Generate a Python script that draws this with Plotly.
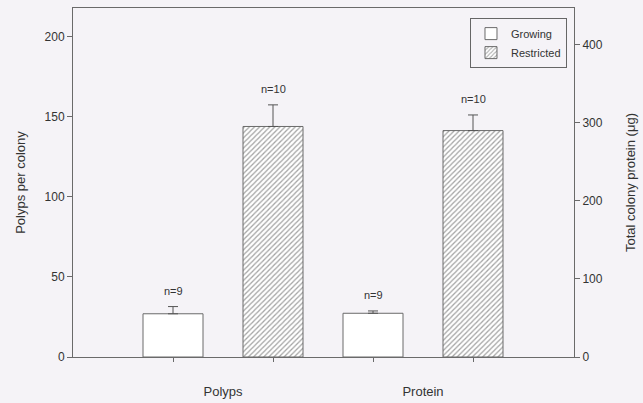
import plotly.graph_objects as go

# Measurements per colony
groups = ["Polyps", "Protein"]
conditions = ["Growing", "Restricted"]
polyps_mean = [27, 144]        # polyps per colony
polyps_err = [4.5, 13.5]
protein_mean = [56, 290]       # total colony protein (µg)
protein_err = [3, 20]
sample_n = [["n=9", "n=10"], ["n=9", "n=10"]]

BG = "#f5f3f7"
LINE = "#6a6a6a"
TXT = "#333333"
FONT = "Liberation Sans, Arial, sans-serif"

means = [polyps_mean, protein_mean]
errs = [polyps_err, protein_err]
yaxes = ["y", "y2"]

fig = go.Figure()
annotations = []
bar_positions = []
group_centers = []
for gi, grp in enumerate(groups):
    center = 2 * gi + 1.5
    group_centers.append(center)
    for ci, cond in enumerate(conditions):
        xpos = center + (ci - 0.5)
        bar_positions.append(xpos)
        restricted = ci == 1
        fig.add_trace(go.Bar(
            x=[xpos], y=[means[gi][ci]], width=0.6,
            yaxis=yaxes[gi], xaxis="x",
            name=cond, legendgroup=cond, showlegend=(gi == 0),
            marker=dict(
                color="white",
                line=dict(color=LINE, width=1),
                pattern=dict(shape="/" if restricted else "", size=3.6,
                             solidity=0.35, fgcolor="#4a4a4a", bgcolor="white"),
            ),
            error_y=dict(type="data", array=[errs[gi][ci]], arrayminus=[0],
                         symmetric=False, visible=True,
                         color="#555555", thickness=1, width=5),
            hoverinfo="skip",
        ))
        annotations.append(dict(
            x=xpos, y=means[gi][ci] + errs[gi][ci],
            xref="x", yref=yaxes[gi], text=sample_n[gi][ci],
            showarrow=False, yanchor="bottom", yshift=8,
            font=dict(size=11, color=TXT, family=FONT),
        ))

# invisible carrier so the category-label axis is drawn
fig.add_trace(go.Scatter(
    x=group_centers, y=[0, 0], xaxis="x2", yaxis="y",
    mode="markers", marker=dict(opacity=0), showlegend=False, hoverinfo="skip",
))

fig.update_layout(
    width=643, height=403,
    margin=dict(l=73, r=69, t=8, b=46, autoexpand=False),
    paper_bgcolor=BG, plot_bgcolor=BG,
    barmode="overlay",
    font=dict(family=FONT, size=12, color=TXT),
    showlegend=True,
    legend=dict(
        x=0.986, y=0.971, xanchor="right", yanchor="top",
        bgcolor=BG, bordercolor="#666666", borderwidth=1,
        font=dict(size=11, color=TXT, family=FONT),
        tracegroupgap=0,
    ),
    xaxis=dict(
        range=[0, 5.01], tickvals=bar_positions, showticklabels=False,
        ticks="outside", ticklen=4, tickcolor=LINE,
        showline=True, linecolor=LINE, mirror=True,
        showgrid=False, zeroline=False, automargin=False,
    ),
    xaxis2=dict(
        overlaying="x", side="bottom", anchor="y",
        range=[0, 5.01], tickvals=group_centers, ticktext=groups,
        ticks="outside", ticklen=22, tickcolor="rgba(0,0,0,0)",
        tickfont=dict(size=13, color=TXT),
        showline=False, showgrid=False, zeroline=False, automargin=False,
    ),
    yaxis=dict(
        range=[0, 218], tickvals=[0, 50, 100, 150, 200],
        ticks="outside", ticklen=5, tickcolor=LINE,
        showline=True, linecolor=LINE, showgrid=False, zeroline=False,
        title=dict(text="Polyps per colony", font=dict(size=13, color=TXT), standoff=16),
        tickfont=dict(size=12, color=TXT), automargin=False,
    ),
    yaxis2=dict(
        overlaying="y", side="right", anchor="x",
        range=[0, 447], tickvals=[0, 100, 200, 300, 400],
        ticks="outside", ticklen=5, tickcolor=LINE,
        showline=True, linecolor=LINE, showgrid=False, zeroline=False,
        title=dict(text="Total colony protein (μg)", font=dict(size=13, color=TXT), standoff=24),
        tickfont=dict(size=12, color=TXT), automargin=False,
    ),
    annotations=annotations,
)

fig.write_html("out.html")
